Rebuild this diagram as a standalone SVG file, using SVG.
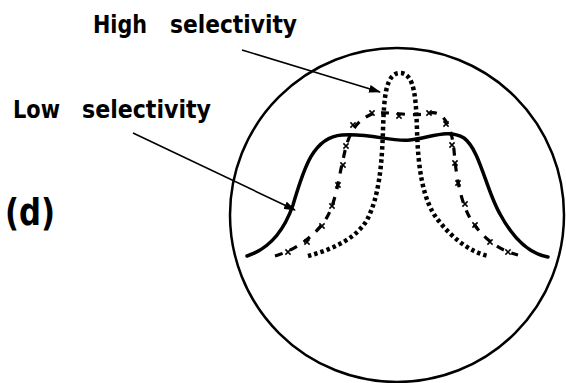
<svg xmlns="http://www.w3.org/2000/svg" width="566" height="383" viewBox="0 0 566 383">
<style>
.lbl{font-family:"DejaVu Sans","Liberation Sans",sans-serif;font-weight:bold;fill:#000}
.frame{fill:none;stroke:#000;stroke-width:2.5}
.solid{fill:none;stroke:#000;stroke-width:3.5;stroke-linecap:round}
.dashx{fill:none;stroke:#000;stroke-width:3.2;stroke-dasharray:8 8}
.dots{fill:none;stroke:#000;stroke-width:4.5;stroke-dasharray:3.5 3}
.x{fill:none;stroke:#000;stroke-width:1.5}
.conn{fill:none;stroke:#000;stroke-width:1.6}
</style>
<defs>
<marker id="ah" viewBox="0 0 12 8" refX="11" refY="4" markerWidth="12" markerHeight="8" markerUnits="userSpaceOnUse" orient="auto">
<path d="M0,0 L12,4 L0,8 z" fill="#000"/>
</marker>
<path id="xm" d="M-2.6,-2.6 L2.6,2.6 M-2.6,2.6 L2.6,-2.6" class="x"/>
</defs>
<g id="label-high"><text class="lbl" x="93" y="33" font-size="24" textLength="54" lengthAdjust="spacingAndGlyphs">High</text><text class="lbl" x="170" y="33" font-size="24" textLength="127" lengthAdjust="spacingAndGlyphs">selectivity</text></g>
<g id="label-low"><text class="lbl" x="13" y="118" font-size="24" textLength="47" lengthAdjust="spacingAndGlyphs">Low</text><text class="lbl" x="82" y="118" font-size="24" textLength="129" lengthAdjust="spacingAndGlyphs">selectivity</text></g>
<g id="label-d"><text class="lbl" x="5" y="225" font-size="38" textLength="50" lengthAdjust="spacingAndGlyphs">(d)</text></g>
<g id="circle"><circle class="frame" cx="397" cy="215" r="167"/></g>
<g id="low-curve"><path class="solid" d="M247,256 C272,248 285,228 293,205 C303,172 312,137 342,135 C372,133 390,142 410,140 C430,138 448,128 464,138 C480,150 486,190 500,214 C514,240 530,254 548,257"/></g>
<g id="mid-curve">
<path class="dashx" d="M275,256 C295,250 312,238 324,222 C336,205 338,180 343,160 C347,140 352,122 372,114 C390,110 410,118 430,113 C445,110 452,130 454,150 C456,175 460,200 470,218 C482,238 498,250 518,255"/>
<g>
<use href="#xm" x="288" y="252"/><use href="#xm" x="307" y="242"/><use href="#xm" x="322" y="226"/><use href="#xm" x="332" y="206"/><use href="#xm" x="338" y="185"/><use href="#xm" x="343" y="165"/><use href="#xm" x="346" y="146"/><use href="#xm" x="353" y="125"/><use href="#xm" x="372" y="113"/><use href="#xm" x="399" y="116"/><use href="#xm" x="429" y="113"/><use href="#xm" x="446" y="124"/><use href="#xm" x="452" y="145"/><use href="#xm" x="455" y="163"/><use href="#xm" x="458" y="183"/><use href="#xm" x="465" y="204"/><use href="#xm" x="475" y="225"/><use href="#xm" x="490" y="242"/><use href="#xm" x="508" y="252"/>
</g>
</g>
<g id="high-curve"><path class="dots" d="M308,256 C330,250 355,240 367,220 C380,195 382,160 383,130 C384,100 385,73 400,73 C415,73 416,100 417,130 C418,165 422,200 438,220 C452,238 470,252 488,256"/></g>
<g id="connectors">
<path class="conn" d="M242,50 L380,92" marker-end="url(#ah)"/>
<path class="conn" d="M133,133 L295,210" marker-end="url(#ah)"/>
</g>
</svg>
